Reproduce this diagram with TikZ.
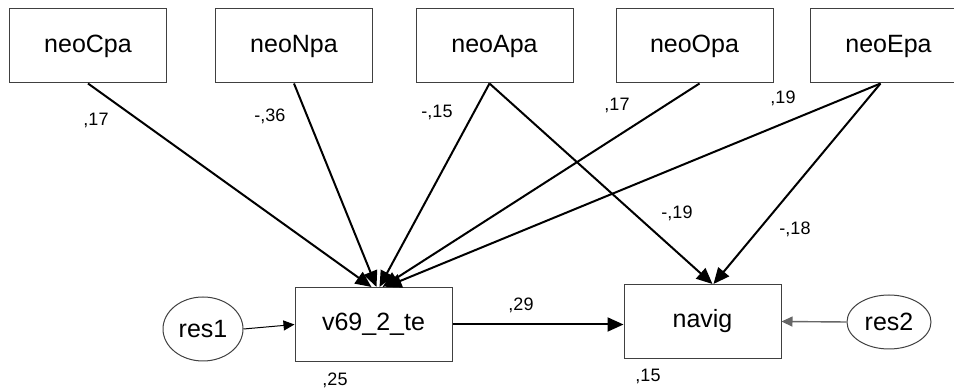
\documentclass[tikz,border=0pt]{standalone}
\usepackage{fontspec}
\setmainfont{Liberation Sans}
\usetikzlibrary{arrows.meta, shapes.geometric}

\begin{document}
\begin{tikzpicture}[x=0.5pt, y=-0.5pt, >={Triangle[length=8pt,width=7pt]},
  obs/.style={draw=black!75, line width=0.5pt, minimum width=78.5pt, minimum height=37pt, inner sep=0pt, font=\fontsize{12.5}{14}\selectfont},
  res/.style={draw=black!75, line width=0.5pt, ellipse, inner sep=0pt, font=\fontsize{12.5}{14}\selectfont},
  pth/.style={->, line width=1pt},
  coef/.style={font=\fontsize{9}{11}\selectfont, inner sep=0pt}]

  % --- 画面サイズ ---
  \useasboundingbox (0,0) rectangle (954,389);

  % 1. 外生変数（上段）
  \node[obs] (C) at (88,46)    {neoCpa};
  \node[obs] (N) at (294,46)   {neoNpa};
  \node[obs] (A) at (494.5,46) {neoApa};
  \node[obs] (O) at (694.5,46) {neoOpa};
  \node[obs] (E) at (888.5,46) {neoEpa};

  % 2. 内生変数と誤差
  \node[obs] (v) at (373.5,324.5) {v69\_2\_te};
  \node[obs] (nav) at (702.5,321.5) {navig};
  \node[res, minimum width=40pt, minimum height=32pt] (r1) at (203,329) {res1};
  \node[res, minimum width=42pt, minimum height=27pt] (r2) at (889,322) {res2};

  % 3. パス（v69_2_te へ）
  \draw[pth] (C.south) -- ([xshift=-1pt]v.north);
  \draw[pth] (N.south) -- ([xshift=1.5pt]v.north);
  \draw[pth] ([xshift=-2.5pt]A.south) -- ([xshift=3pt]v.north);
  \draw[pth] ([xshift=2.5pt]O.south) -- ([xshift=4.5pt]v.north);
  \draw[pth] ([xshift=-4pt]E.south) -- ([xshift=6pt]v.north);

  % 4. パス（navig へ）
  \draw[pth] ([xshift=-2.5pt]A.south) -- ([xshift=5pt]nav.north);
  \draw[pth] ([xshift=-4pt]E.south) -- ([xshift=5.5pt]nav.north);
  \draw[pth] (v.east) -- (v.east -| nav.west);

  % 5. 誤差からのパス
  \draw[-{Triangle[length=5.5pt,width=5pt]}, line width=0.5pt] (r1.east) -- (v.west);
  \draw[-{Triangle[length=5.5pt,width=5pt]}, line width=0.7pt, black!60] (r2.west) -- (nav.east);

  % 6. 係数
  \node[coef] at (96,120)  {,17};
  \node[coef] at (270,116) {-,36};
  \node[coef] at (437,112) {-,15};
  \node[coef] at (617,105) {,17};
  \node[coef] at (783,98)  {,19};
  \node[coef] at (677,213) {-,19};
  \node[coef] at (795,229) {-,18};
  \node[coef] at (521,305) {,29};
  \node[coef] at (335,380) {,25};
  \node[coef] at (648,376) {,15};

\end{tikzpicture}
\end{document}
